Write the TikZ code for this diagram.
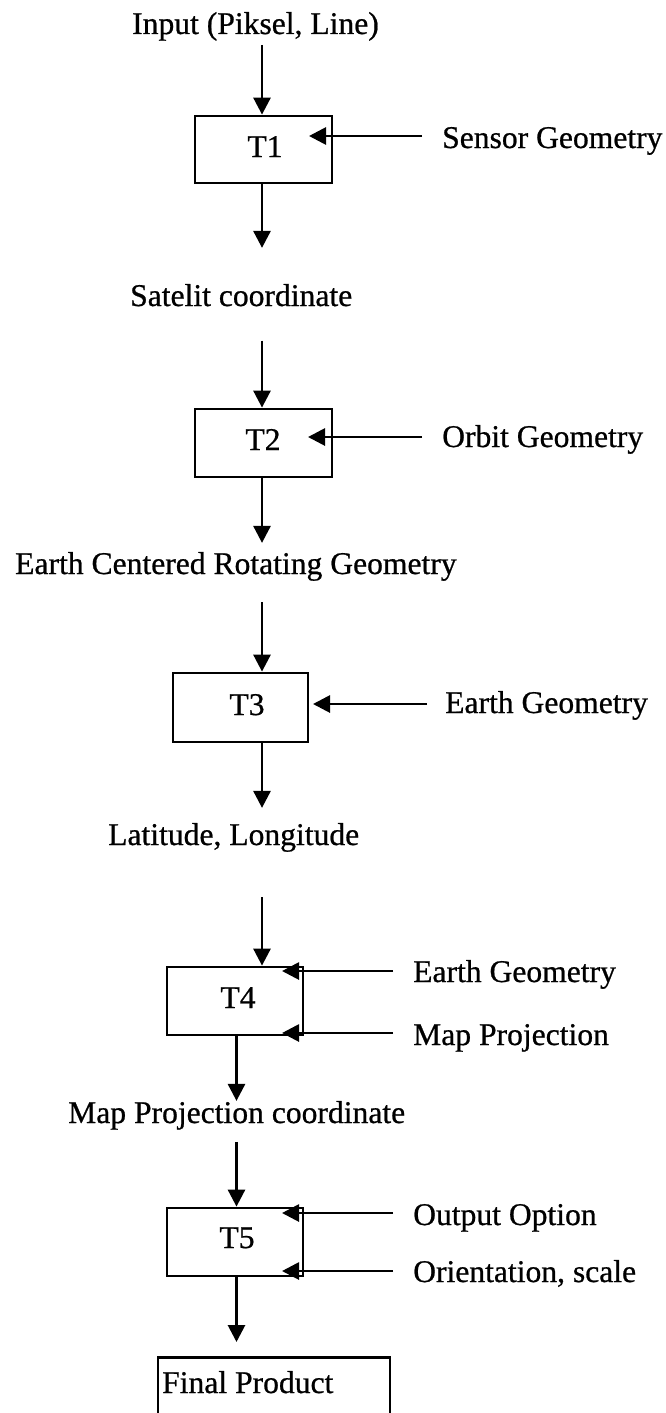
\documentclass[tikz,border=0pt]{standalone}
\usepackage{fontspec}
\setmainfont{Liberation Serif}
\newfontfamily\reffont{Liberation Serif}[FakeBold=0.7]
\usetikzlibrary{arrows.meta}
\begin{document}
\begin{tikzpicture}[x=1pt,y=-1pt,
  lbl/.style={inner sep=0pt, anchor=base west, font=\reffont\fontsize{31.6}{38}\selectfont},
  tlbl/.style={inner sep=0pt, anchor=base, font=\reffont\fontsize{31.6}{38}\selectfont},
  box/.style={draw, line width=2.8pt, inner sep=0pt, rectangle},
  arr/.style={line width=2.8pt, -{Triangle[length=17pt,width=17pt]}}]
\useasboundingbox (0,0) rectangle (665,1413);
\clip (0,0) rectangle (665,1413);
\fill[white] (0,0) rectangle (665,1413);

% boxes
\node[box, minimum width=137pt, minimum height=67pt] (T1) at (263.5,149.5) {};
\node[box, minimum width=137pt, minimum height=68pt] (T2) at (263.5,443) {};
\node[box, minimum width=135pt, minimum height=69pt] (T3) at (240.5,707.5) {};
\node[box, minimum width=136pt, minimum height=68pt] (T4) at (235,1001) {};
\node[box, minimum width=136pt, minimum height=68pt] (T5) at (235,1242) {};
\node[box, minimum width=232pt, minimum height=120pt, anchor=north] (FP) at (274,1356) {};

% box labels
\node[tlbl] (T1l) at (265,157) {T1};
\node[tlbl] (T2l) at (263,450) {T2};
\node[tlbl] (T3l) at (247,715) {T3};
\node[tlbl] (T4l) at (238,1008) {T4};
\node[tlbl] (T5l) at (237,1248) {T5};
\node[lbl] (FPl) at (162,1393) {Final Product};

% texts
\node[lbl] (in)  at (132,34)   {Input (Piksel, Line)};
\node[lbl] (sg)  at (442,148)  {Sensor Geometry};
\node[lbl] (sc)  at (130,306)  {Satelit coordinate};
\node[lbl] (og)  at (442,447)  {Orbit Geometry};
\node[lbl] (ec)  at (15,574)   {Earth Centered Rotating Geometry};
\node[lbl] (eg1) at (445,713)  {Earth Geometry};
\node[lbl] (ll)  at (108,845)  {Latitude, Longitude};
\node[lbl] (eg2) at (413,982)  {Earth Geometry};
\node[lbl] (mp)  at (413,1045) {Map Projection};
\node[lbl] (mpc) at (68,1123)  {Map Projection coordinate};
\node[lbl] (oo)  at (413,1225) {Output Option};
\node[lbl] (os)  at (413,1282) {Orientation, scale};

% x positions of vertical connectors
\coordinate (xa) at (262,0);
\coordinate (xb) at (236.5,0);

% vertical connectors
\draw[arr, shorten <=4pt]  (in.south -| xa)  -- (T1.north -| xa);
\draw[arr, shorten >=36pt] (T1.south -| xa)  -- (sc.north -| xa);
\draw[arr, shorten <=34pt] (sc.south -| xa)  -- (T2.north -| xa);
\draw[arr, shorten >=9pt]  (T2.south -| xa)  -- (ec.north -| xa);
\draw[arr, shorten <=21pt] (ec.south -| xa)  -- (T3.north -| xa);
\draw[arr, shorten >=15pt] (T3.south -| xa)  -- (ll.north -| xa);
\draw[arr, shorten <=45pt] (ll.south -| xa)  -- (T4.north -| xa);
\draw[arr]                 (T4.south -| xb)  -- (mpc.north -| xb);
\draw[arr, shorten <=12pt] (mpc.south -| xb) -- (T5.north -| xb);
\draw[arr, shorten >=14pt] (T5.south -| xb)  -- (FP.north -| xb);

% tips of side inputs
\coordinate (h1) at (309,136);
\coordinate (h2) at (308,437);
\coordinate (h3) at (313,704);
\coordinate (h4) at (282,971);
\coordinate (h5) at (282,1033);
\coordinate (h6) at (282,1213);
\coordinate (h7) at (282,1271);

% horizontal connectors
\draw[arr, shorten <=20pt] (sg.west |- h1)  -- (h1);
\draw[arr, shorten <=20pt] (og.west |- h2)  -- (h2);
\draw[arr, shorten <=18pt] (eg1.west |- h3) -- (h3);
\draw[arr, shorten <=20pt] (eg2.west |- h4) -- (h4);
\draw[arr, shorten <=20pt] (mp.west |- h5)  -- (h5);
\draw[arr, shorten <=20pt] (oo.west |- h6)  -- (h6);
\draw[arr, shorten <=20pt] (os.west |- h7)  -- (h7);
\end{tikzpicture}
\end{document}
